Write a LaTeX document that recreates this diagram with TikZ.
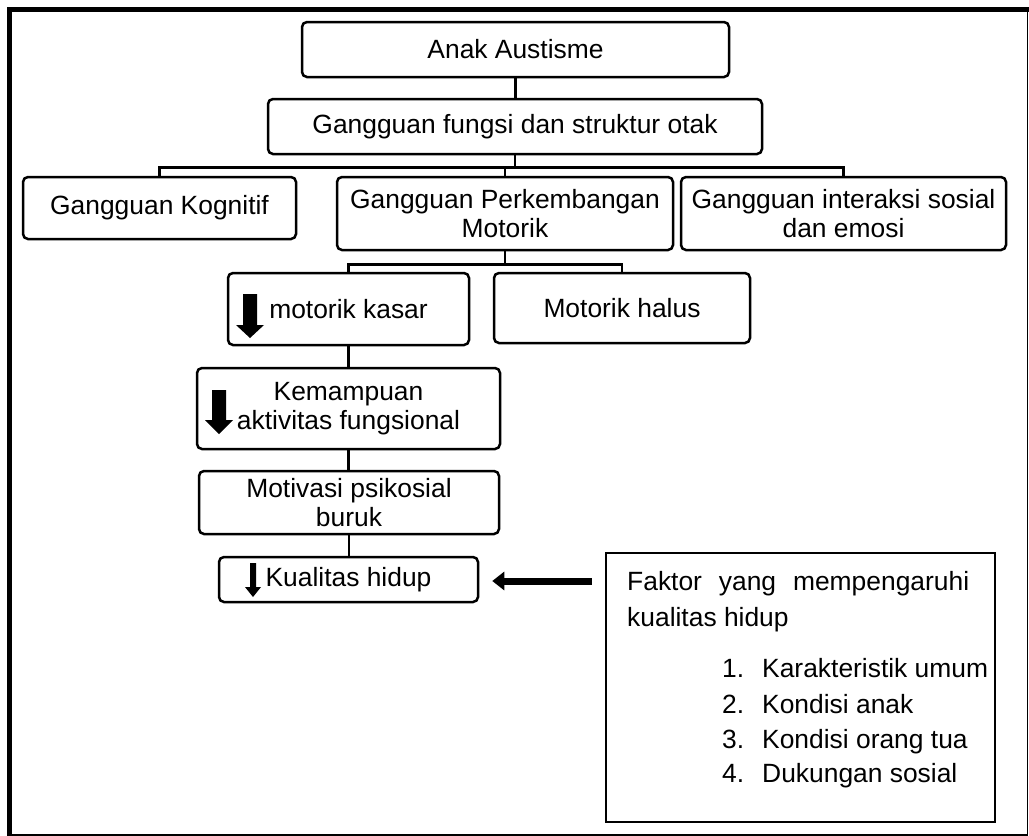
\documentclass[tikz,border=0pt]{standalone}
\usepackage{fontspec}
\setmainfont{Liberation Sans}
\usetikzlibrary{arrows.meta}
\begin{document}
\begin{tikzpicture}[x=1pt,y=-1pt,
  box/.style={draw, line width=2.5pt, rounded corners=5pt, inner sep=0pt, align=center,
    font=\fontsize{26.4}{29}\selectfont},
  conn/.style={line width=2.5pt},
  fatarrow/.style={line width=7pt, -{Triangle[width=18pt,length=12pt]}},
  txt/.style={inner sep=0pt, font=\fontsize{26.4}{29}\selectfont}]
\useasboundingbox (0,0) rectangle (1029,836);
\fill[white] (0,0) rectangle (1029,836);
% outer frame
\draw[line width=5pt] (9.5,836) -- (9.5,9.5) -- (1029,9.5);
\draw[line width=1.5pt] (1027.5,12) -- (1027.5,835) -- (12,835);
% boxes
\node[box, minimum width=427pt, minimum height=55pt] (A) at (515.5,49.5) {Anak Austisme};
\node[box, minimum width=494pt, minimum height=55pt] (B) at (515,126.5) {Gangguan fungsi dan struktur otak};
\node[box, minimum width=273pt, minimum height=62pt] (K) at (159.5,208) {Gangguan Kognitif};
\node[box, minimum width=336pt, minimum height=73pt] (M) at (505,213.5) {Gangguan Perkembangan\\Motorik};
\node[box, minimum width=325pt, minimum height=73pt] (I) at (843.5,213.5) {Gangguan interaksi sosial\\dan emosi};
\node[box, minimum width=241pt, minimum height=72pt] (MK) at (348.5,309) {motorik kasar};
\node[box, minimum width=256pt, minimum height=70pt] (MH) at (622,308) {Motorik halus};
\node[box, minimum width=303pt, minimum height=81pt] (KA) at (348.5,408.5) {Kemampuan\\aktivitas fungsional};
\node[box, minimum width=300pt, minimum height=63pt] (MP) at (349,502.5) {Motivasi psikosial\\buruk};
\node[box, minimum width=259pt, minimum height=45pt] (KH) at (348.5,579.5) {Kualitas hidup};
\node[draw, line width=2.5pt, minimum width=389pt, minimum height=269pt, inner sep=0pt] (F) at (800.5,687.5) {};
% connectors
\draw[conn] (A.south) -- (A.south |- B.north);
\coordinate (b1) at ([yshift=-12pt]B.south);
\draw[conn] (B.south) -- (b1);
\draw[conn] (K.north) |- (b1) -| (I.north);
\draw[conn] (M.north) -- (M.north |- b1);
\coordinate (m1) at ([yshift=-13pt]M.south);
\draw[conn] (M.south) -- (m1);
\draw[conn] (MK.north) |- (m1) -| (MH.north);
\draw[conn] (MK.south) -- (KA.north);
\draw[conn] (KA.south) -- (KA.south |- MP.north);
\draw[conn] (MP.south) -- (MP.south |- KH.north);
\draw[fatarrow] ([xshift=-13pt,yshift=-1.5pt]F.west |- KH.east) -- ([xshift=13pt,yshift=-1.5pt]KH.east);
% down arrows inside boxes
\fill (243,294) -- (257,294) -- (257,325) -- (264,325) -- (250,338) -- (236,325) -- (243,325) -- cycle;
\fill (212,390) -- (226,390) -- (226,420) -- (233,420) -- (219,434) -- (205,420) -- (212,420) -- cycle;
\fill (250,563) -- (256,563) -- (256,587) -- (261,587) -- (253,597) -- (245,587) -- (250,587) -- cycle;
% factor box text
\node[txt, anchor=base west] (f1) at (627,590) {\hbox to 342pt{Faktor\hfill yang\hfill mempengaruhi}};
\node[txt, anchor=base west] (f2) at (627,626) {kualitas hidup};
\node[txt, anchor=base west] (n1) at (722,677) {1.};
\node[txt, anchor=base west] (t1) at (762,677) {Karakteristik umum};
\node[txt, anchor=base west] (n2) at (722,713) {2.};
\node[txt, anchor=base west] (t2) at (762,713) {Kondisi anak};
\node[txt, anchor=base west] (n3) at (722,748) {3.};
\node[txt, anchor=base west] (t3) at (762,748) {Kondisi orang tua};
\node[txt, anchor=base west] (n4) at (722,782) {4.};
\node[txt, anchor=base west] (t4) at (762,782) {Dukungan sosial};
\end{tikzpicture}
\end{document}
